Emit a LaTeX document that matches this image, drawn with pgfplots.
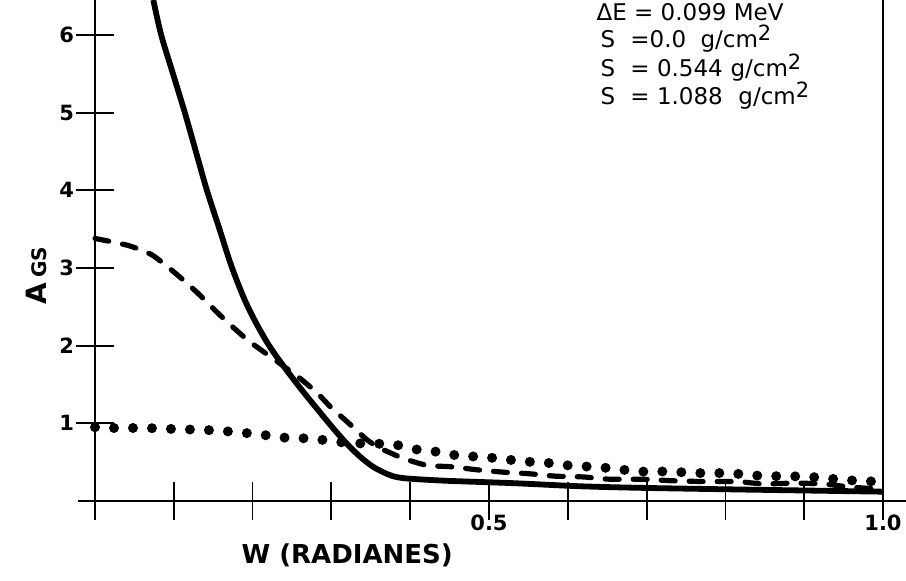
\documentclass[border=0pt]{standalone}
\usepackage{pgfplots}
\pgfplotsset{compat=1.18}
\usepackage{fontspec}
\setmainfont{DejaVu Sans}
\newcommand{\sq}{\raisebox{0.55ex}{\fontsize{10.5}{12}\selectfont 2}}
\begin{document}
\begin{tikzpicture}
\begin{axis}[
  at={(0pt,0pt)}, anchor=south west,
  scale only axis, width=394pt, height=250.5pt,
  xmin=0, xmax=1, ymin=0, ymax=6.45,
  axis lines=left,
  axis line style={-, line width=1.1pt},
  clip=false,
  xtick={0,0.1,0.2,0.3,0.4,0.5,0.6,0.7,0.8,0.9,1.0},
  xticklabels={},
  ytick={1,2,3,4,5,6},
  yticklabels={},
  tick align=center,
  major tick length=19pt,
  every tick/.style={black, line width=0.9pt},
]
\addplot[black, line width=2.9pt, smooth, tension=0.5] coordinates {
(0.074,6.45)(0.084,6.0)(0.099,5.5)(0.114,5.0)(0.128,4.5)(0.142,4.0)(0.158,3.5)(0.174,3.0)(0.194,2.5)(0.221,2.0)(0.257,1.5)(0.297,1.0)(0.314,0.80)(0.327,0.66)(0.340,0.54)(0.353,0.44)(0.366,0.37)(0.378,0.32)(0.396,0.29)(0.447,0.26)(0.53,0.23)(0.615,0.19)(0.69,0.17)(0.806,0.15)(1.0,0.12)
};
\addplot[black, line width=2.6pt, line cap=round, dash pattern=on 7pt off 7pt, smooth, tension=0.4] coordinates {
(0,3.38)(0.042,3.29)(0.072,3.17)(0.10,2.95)(0.13,2.68)(0.161,2.37)(0.194,2.07)(0.232,1.79)(0.26,1.58)(0.282,1.39)(0.30,1.2)(0.32,1.02)(0.345,0.79)(0.362,0.68)(0.391,0.55)(0.421,0.46)(0.453,0.44)(0.486,0.40)(0.52,0.37)(0.552,0.35)(0.584,0.32)(0.619,0.31)(0.654,0.28)(0.696,0.28)(0.734,0.26)(0.777,0.25)(0.815,0.25)(0.848,0.22)(0.886,0.23)(0.924,0.22)(0.958,0.18)(1.0,0.15)
};
\addplot[black, line width=5pt, line cap=round, dash pattern=on 0pt off 9.5pt, smooth, tension=0.4] coordinates {
(0,0.95)(0.017,0.94)(0.04,0.94)(0.064,0.94)(0.091,0.93)(0.15,0.91)(0.175,0.89)(0.207,0.86)(0.235,0.82)(0.256,0.81)(0.279,0.80)(0.308,0.76)(0.34,0.74)(0.378,0.73)(0.41,0.66)(0.437,0.63)(0.463,0.58)(0.489,0.57)(0.519,0.54)(0.543,0.51)(0.575,0.49)(0.608,0.45)(0.635,0.44)(0.664,0.41)(0.689,0.38)(0.721,0.38)(0.745,0.37)(0.764,0.36)(0.791,0.36)(0.815,0.35)(0.836,0.33)(0.86,0.32)(0.882,0.32)(0.904,0.31)(0.925,0.30)(0.948,0.27)(0.975,0.26)(1.0,0.24)
};
% frame extensions
\draw[line width=1.1pt] (axis cs:-0.022,0) -- (axis cs:1.03,0);
\draw[line width=1.3pt] (axis cs:1,0) -- (axis cs:1,6.45);
% tick labels
\begin{scope}[every node/.style={font=\fontsize{10.5}{12}\selectfont\bfseries, inner sep=0pt}]
\node[anchor=east] at (axis cs:-0.026,1) {1};
\node[anchor=east] at (axis cs:-0.026,2) {2};
\node[anchor=east] at (axis cs:-0.026,3) {3};
\node[anchor=east] at (axis cs:-0.026,4) {4};
\node[anchor=east] at (axis cs:-0.026,5) {5};
\node[anchor=east] at (axis cs:-0.026,6) {6};
\node at (axis cs:0.5,-0.28) {0.5};
\node at (axis cs:1.0,-0.28) {1.0};
\end{scope}
% axis labels
\node[rotate=90, anchor=center] at (axis cs:-0.074,2.9) {\fontsize{14}{16}\selectfont\bfseries A\,\fontsize{10}{12}\selectfont GS};
\node[font=\fontsize{13}{15}\selectfont\bfseries] at (axis cs:0.32,-0.70) {W (RADIANES)};
% legend text
\begin{scope}[every node/.style={anchor=base west, inner sep=0pt, font=\fontsize{11.5}{13}\selectfont}]
\node at (axis cs:0.636,6.19) {ΔE = 0.099 MeV};
\node at (axis cs:0.641,5.84) {S};
\node at (axis cs:0.679,5.84) {=0.0};
\node at (axis cs:0.768,5.84) {g/cm\sq};
\node at (axis cs:0.641,5.47) {S};
\node at (axis cs:0.679,5.47) {= 0.544};
\node at (axis cs:0.806,5.47) {g/cm\sq};
\node at (axis cs:0.641,5.11) {S};
\node at (axis cs:0.679,5.11) {= 1.088};
\node at (axis cs:0.816,5.11) {g/cm\sq};
\end{scope}
\end{axis}
\pgfresetboundingbox
\path[use as bounding box] (-47.5pt,-39.5pt) rectangle (405.5pt,250.5pt);
\end{tikzpicture}
\end{document}
